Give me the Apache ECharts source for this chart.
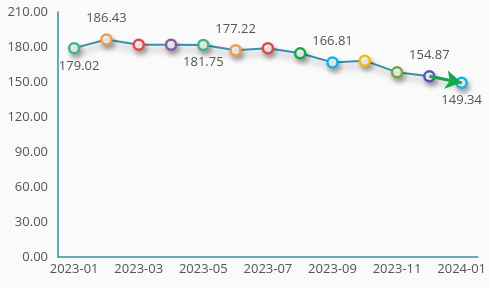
<!DOCTYPE html>
<html><head><meta charset="utf-8">
<script src="https://cdn.jsdelivr.net/npm/echarts@6/dist/echarts.min.js"></script>
<style>html,body{margin:0;padding:0;background:#fafafa}#c{width:489px;height:288px}</style>
</head><body><div id="c"></div>
<script>
const categories = ['2023-01','2023-02','2023-03','2023-04','2023-05','2023-06','2023-07','2023-08','2023-09','2023-10','2023-11','2023-12','2024-01'];
const values = [179.02,186.43,182.0,181.9,181.75,177.22,178.9,174.6,166.81,168.3,158.3,154.87,149.34];
const markerColors = ['#3db58b','#f29b4f','#e64545','#8558a8','#3db58b','#f29b4f','#e64545','#12a84a','#10b2ee','#f5b90a','#6ea83a','#5a4ec0','#10b2ee'];
const labelPos = [['bottom',[5,0]],['top',[0,-3]],null,null,['bottom',[0,0]],['top',[0,-3]],null,null,['top',[0,-3]],null,null,['top',[0,-3]],['bottom',[0,0]]];
const yTicks = [0,30,60,90,120,150,180,210];

const font = '"Open Sans", sans-serif';
const data = values.map((v,i)=>{
  const p = labelPos[i];
  return {
    value: v,
    itemStyle: {color:'#fff', borderColor: markerColors[i]},
    label: p ? {show:true, position:p[0], offset:p[1], distance:5, color:'#555', fontSize:13, fontFamily:font,
      formatter: ()=>v.toFixed(2)} : {show:false}
  };
});
const chart = echarts.init(document.getElementById('c'));
chart.setOption({
  backgroundColor:'#fafafa',
  animation:false,
  grid:{left:58,right:10,top:12,bottom:31},
  xAxis:{type:'category',data:categories,boundaryGap:true,
    axisLine:{lineStyle:{color:'#3a8ea8',width:1.5}},axisTick:{show:false},
    axisLabel:{interval:1,color:'#555',fontSize:13,fontFamily:font,margin:6}},
  yAxis:{type:'value',min:yTicks[0],max:yTicks[yTicks.length-1],interval:30,
    axisLine:{show:true,lineStyle:{color:'#3a8ea8',width:1.5}},axisTick:{show:false},splitLine:{show:false},
    axisLabel:{color:'#555',fontSize:13,fontFamily:font,margin:10,formatter:v=>v.toFixed(2)}},
  series:[{
    type:'line',data:data,symbol:'circle',symbolSize:10,
    lineStyle:{color:'#3a8ea8',width:2,shadowColor:'rgba(0,0,0,0.35)',shadowBlur:6,shadowOffsetY:5,shadowOffsetX:2},
    itemStyle:{borderWidth:2.5,shadowColor:'rgba(0,0,0,0.3)',shadowBlur:5,shadowOffsetY:4,shadowOffsetX:2},
    markLine:{silent:true,symbol:['none','arrow'],symbolSize:[14,16],label:{show:false},
      lineStyle:{color:'#14a84c',width:3,type:'solid'},
      data:[[{coord:[categories[11],values[11]]},{coord:[categories[12],values[12]]}]]}
  }]
});
</script></body></html>
